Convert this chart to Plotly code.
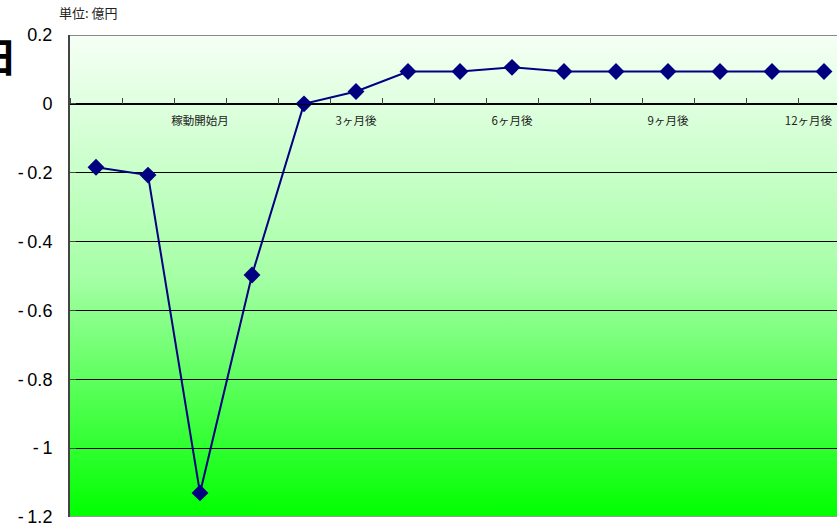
import base64
import plotly.graph_objects as go

# ---- data ----
months = list(range(15))
values = [-0.184, -0.207, -1.13, -0.497, 0.0, 0.036, 0.094, 0.094, 0.106,
          0.094, 0.094, 0.094, 0.094, 0.094, 0.094]
label_pos = [2, 5, 8, 11, 13.7]
label_text = ["稼動開始月", "3ヶ月後", "6ヶ月後", "9ヶ月後", "12ヶ月後"]
y_ticks = [0.2, 0.0, -0.2, -0.4, -0.6, -0.8, -1.0, -1.2]
y_ticktext = ["0.2", "0", "-\u20090.2", "-\u20090.4", "-\u20090.6", "-\u20090.8", "-\u20091", "-\u20091.2"]
unit_text = "単位: 億円"

Y_MIN, Y_MAX = -1.2, 0.2

# gradient background as svg
svg = ('<svg xmlns="http://www.w3.org/2000/svg" width="100" height="100" preserveAspectRatio="none">'
       '<defs><linearGradient id="g" x1="0" y1="0" x2="0" y2="1">'
       '<stop offset="0" stop-color="#f6fff6"/>'
       '<stop offset="0.5" stop-color="#a6ffa6"/>'
       '<stop offset="1" stop-color="#00ff00"/>'
       '</linearGradient></defs>'
       '<rect width="100" height="100" fill="url(#g)"/></svg>')
svg_uri = "data:image/svg+xml;base64," + base64.b64encode(svg.encode()).decode()

fig = go.Figure()
fig.add_trace(go.Scatter(
    x=months, y=values, mode="lines+markers",
    line=dict(color="#000080", width=2),
    marker=dict(symbol="diamond", size=13, color="#000080"),
    hoverinfo="skip", showlegend=False,
))

fig.update_layout(
    width=837, height=527,
    margin=dict(l=70, r=0, t=35, b=10),
    paper_bgcolor="white",
    plot_bgcolor="rgba(0,0,0,0)",
    showlegend=False,
    images=[dict(source=svg_uri, xref="paper", yref="paper", x=0, y=1,
                 sizex=1, sizey=1, sizing="stretch", layer="below",
                 xanchor="left", yanchor="top")],
    xaxis=dict(
        range=[-0.5, 14.25],
        anchor="free",
        position=(0 - Y_MIN) / (Y_MAX - Y_MIN),
        showline=True, linecolor="black", linewidth=1,
        showgrid=False, zeroline=False,
        tickmode="array", tickvals=label_pos, ticktext=label_text,
        ticks="", ticklabelstandoff=6, ticklabeloverflow="allow",
        tickfont=dict(family="Noto Sans CJK JP", size=11.5, color="#222"),
        minor=dict(tickmode="linear", tick0=-0.5, dtick=1, ticks="inside",
                   ticklen=6, tickcolor="#444", tickwidth=1, showgrid=False),
    ),
    yaxis=dict(
        range=[Y_MIN, Y_MAX],
        tickmode="array", tickvals=y_ticks, ticktext=y_ticktext,
        showline=True, linecolor="#444", linewidth=2,
        ticks="inside", ticklen=6, tickcolor="#444",
        showgrid=True, gridcolor="black", gridwidth=1,
        zeroline=False, ticklabeloverflow="allow",
        tickfont=dict(family="Liberation Sans, Arial", size=18, color="black"),
        ticklabelstandoff=12,
    ),
    shapes=[
        dict(type="line", xref="paper", yref="y", x0=0, x1=1, y0=Y_MAX, y1=Y_MAX,
             line=dict(color="#8a8a8a", width=2), layer="above"),
        dict(type="line", xref="paper", yref="y", x0=0, x1=1, y0=Y_MIN, y1=Y_MIN,
             line=dict(color="#9a9a9a", width=2), layer="above"),
    ],
    annotations=[
        dict(text=unit_text, xref="paper", yref="paper", x=-0.0169, y=1.046,
             xanchor="left", yanchor="middle", showarrow=False,
             font=dict(family="Noto Sans CJK JP", size=13, color="#222")),
        dict(text="<b>日</b>", xref="paper", yref="paper", x=-0.066, y=0.958,
             xanchor="right", yanchor="middle", showarrow=False,
             font=dict(family="Noto Sans CJK JP", size=40, color="black")),
    ],
)

fig.write_html("out.html")
